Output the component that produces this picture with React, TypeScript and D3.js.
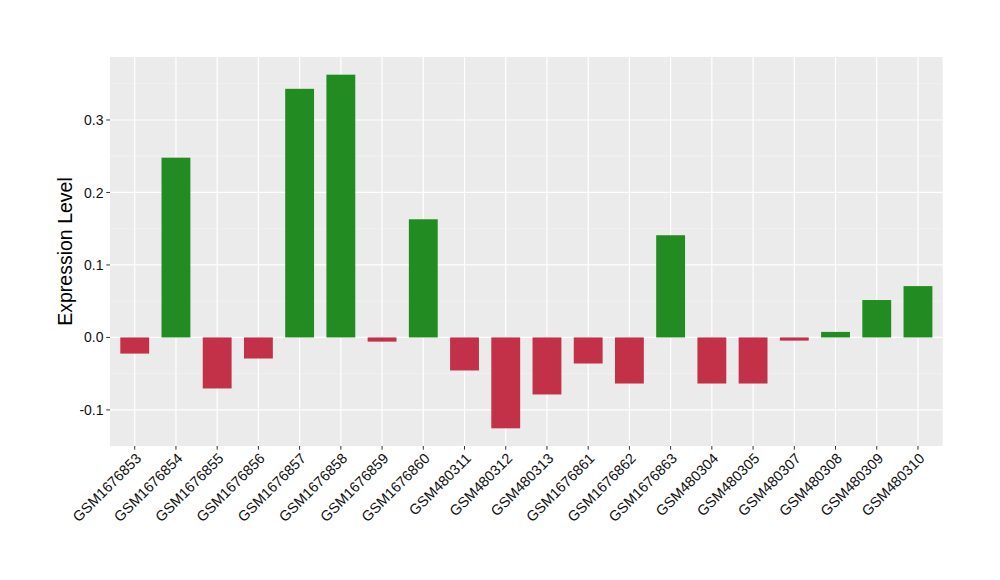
import React from "react";
import * as d3 from "d3";

const samples = [
  "GSM1676853", "GSM1676854", "GSM1676855", "GSM1676856", "GSM1676857",
  "GSM1676858", "GSM1676859", "GSM1676860", "GSM480311", "GSM480312",
  "GSM480313", "GSM1676861", "GSM1676862", "GSM1676863", "GSM480304",
  "GSM480305", "GSM480307", "GSM480308", "GSM480309", "GSM480310",
];
const values = [
  -0.0223, 0.248, -0.0704, -0.0291, 0.343,
  0.3625, -0.0058, 0.163, -0.0456, -0.1254,
  -0.0787, -0.036, -0.0636, 0.141, -0.0636,
  -0.0636, -0.0044, 0.0076, 0.0516, 0.0708,
];
const yTicks = [-0.1, 0.0, 0.1, 0.2, 0.3];
const yMinor = [-0.05, 0.05, 0.15, 0.25, 0.35];
const yTitle = "Expression Level";

const W = 1000;
const H = 580;
const panel = { left: 110, right: 942.7, top: 57, bottom: 446 };
const font = "'Liberation Sans', Arial, Helvetica, sans-serif";
const fmt = (v: number) => d3.format(".1f")(v).replace("\u2212", "-");

export default function App() {
  const n = samples.length;
  const unit = (panel.right - panel.left) / (n - 1 + 1.2);
  const xCenter = (i: number) => panel.left + (0.6 + i) * unit;
  const barW = 0.7 * unit;

  const vMin = d3.min(values) as number;
  const vMax = d3.max(values) as number;
  const pad = (vMax - vMin) * 0.05;
  const y = d3.scaleLinear().domain([vMin - pad, vMax + pad]).range([panel.bottom, panel.top]);

  return (
    <svg width={W} height={H} style={{ position: "absolute", left: 0, top: 0, background: "#fff" }}>
      <rect x={panel.left} y={panel.top} width={panel.right - panel.left} height={panel.bottom - panel.top} fill="#EBEBEB" />
      {yMinor.filter(v => y(v) >= panel.top && y(v) <= panel.bottom).map(v => (
        <line key={"mn" + v} x1={panel.left} x2={panel.right} y1={y(v)} y2={y(v)} stroke="#F5F5F5" strokeWidth={0.6} />
      ))}
      {yTicks.map(v => (
        <line key={"mj" + v} x1={panel.left} x2={panel.right} y1={y(v)} y2={y(v)} stroke="#FFFFFF" strokeWidth={1.2} />
      ))}
      {samples.map((s, i) => (
        <line key={"vx" + s} x1={xCenter(i)} x2={xCenter(i)} y1={panel.top} y2={panel.bottom} stroke="#FFFFFF" strokeWidth={1.2} />
      ))}
      {values.map((v, i) => (
        <rect
          key={"b" + i}
          x={xCenter(i) - barW / 2}
          y={Math.min(y(v), y(0))}
          width={barW}
          height={Math.abs(y(v) - y(0))}
          fill={v >= 0 ? "#228B22" : "#C33149"}
        />
      ))}
      {yTicks.map(v => (
        <g key={"yt" + v}>
          <line x1={panel.left - 3.7} x2={panel.left} y1={y(v)} y2={y(v)} stroke="#333333" strokeWidth={1} />
          <text x={panel.left - 6.5} y={y(v)} dy="0.36em" textAnchor="end" fontFamily={font} fontSize={14} fill="#111">
            {fmt(v)}
          </text>
        </g>
      ))}
      {samples.map((s, i) => (
        <g key={"xt" + s}>
          <line x1={xCenter(i)} x2={xCenter(i)} y1={panel.bottom} y2={panel.bottom + 3.7} stroke="#333333" strokeWidth={1} />
          <text
            transform={`translate(${xCenter(i)},${panel.bottom + 6}) rotate(-45)`}
            dy="0.72em"
            textAnchor="end"
            fontFamily={font}
            fontSize={14.5}
            fill="#111"
          >
            {s}
          </text>
        </g>
      ))}
      <text
        transform={`translate(72,${(panel.top + panel.bottom) / 2}) rotate(-90)`}
        textAnchor="middle"
        fontFamily={font}
        fontSize={19.5}
        fill="#000"
      >
        {yTitle}
      </text>
    </svg>
  );
}
